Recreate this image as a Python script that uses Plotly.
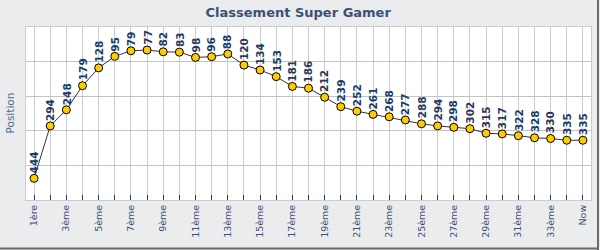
import plotly.graph_objects as go

positions = [444, 294, 248, 179, 128, 95, 79, 77, 82, 83, 98, 96, 88, 120, 134,
             153, 181, 186, 212, 239, 252, 261, 268, 277, 288, 294, 298, 302,
             315, 317, 322, 328, 330, 335, 335]
labels = ["1ère"] + [f"{i}ème" for i in range(2, 35)] + ["Now"]
title = "Classement Super Gamer"
y_title = "Position"

n = len(positions)
xs = list(range(n))
ticktext = [lab if i % 2 == 0 else "" for i, lab in enumerate(labels)]

FONT = "DejaVu Sans"
NAVY = "#1f3a66"

fig = go.Figure()
fig.add_trace(go.Scatter(
    x=xs, y=positions, mode="lines+markers",
    line=dict(color="#333333", width=1),
    marker=dict(size=8, color="#ffcc00", line=dict(color="#000000", width=1)),
    hoverinfo="skip", showlegend=False,
))

for i, v in enumerate(positions):
    fig.add_annotation(
        x=i, y=v, xref="x", yref="y", text=f"<b>{v}</b>", textangle=-90,
        showarrow=False, xanchor="center", yanchor="bottom", yshift=4,
        font=dict(family=FONT, size=10.5, color=NAVY), borderpad=0,
    )

fig.add_annotation(
    x=(9.5 - 26) / 565, y=(200 - 113) / 173, xref="paper", yref="paper",
    text=y_title, textangle=-90, showarrow=False,
    xanchor="center", yanchor="middle",
    font=dict(family=FONT, size=10.5, color="#4d6a95"),
)

# drop-shadow style frame lines
fig.add_shape(type="line", xref="paper", yref="paper",
              x0=(598 - 26) / 565, x1=(598 - 26) / 565,
              y0=(200 - 250) / 173, y1=(200 - 0) / 173,
              line=dict(color="#6a6a6a", width=2))
fig.add_shape(type="line", xref="paper", yref="paper",
              x0=(0 - 26) / 565, x1=(599 - 26) / 565,
              y0=(200 - 248.5) / 173, y1=(200 - 248.5) / 173,
              line=dict(color="#6a6a6a", width=2))

fig.update_layout(
    width=600, height=250,
    margin=dict(l=26, r=9, t=27, b=50),
    paper_bgcolor="#ebecee", plot_bgcolor="#ffffff",
    title=dict(text=f"<b>{title}</b>", x=0.497, xref="container", xanchor="center",
               y=1 - 12 / 250, yref="container", yanchor="middle",
               font=dict(family=FONT, size=13, color="#3d5078")),
    font=dict(family=FONT),
    xaxis=dict(
        range=[-0.5, n - 0.5], tickmode="array", tickvals=xs, ticktext=ticktext,
        tickangle=-90, tickfont=dict(family=FONT, size=9.5, color="#3d5078"),
        ticks="inside", ticklen=5, tickcolor=NAVY, tickwidth=1,
        showgrid=True, gridcolor="#cccccc", gridwidth=1,
        showline=True, linecolor="#cccccc", linewidth=1, mirror=True,
        zeroline=False, fixedrange=True,
    ),
    yaxis=dict(
        range=[506, 11], tickmode="array", tickvals=[110, 209, 308, 407],
        showticklabels=False, ticks="",
        showgrid=True, gridcolor="#c4c4c4", gridwidth=1,
        showline=True, linecolor="#cccccc", linewidth=1, mirror=True,
        zeroline=False, fixedrange=True,
    ),
)

fig.write_html("out.html")
